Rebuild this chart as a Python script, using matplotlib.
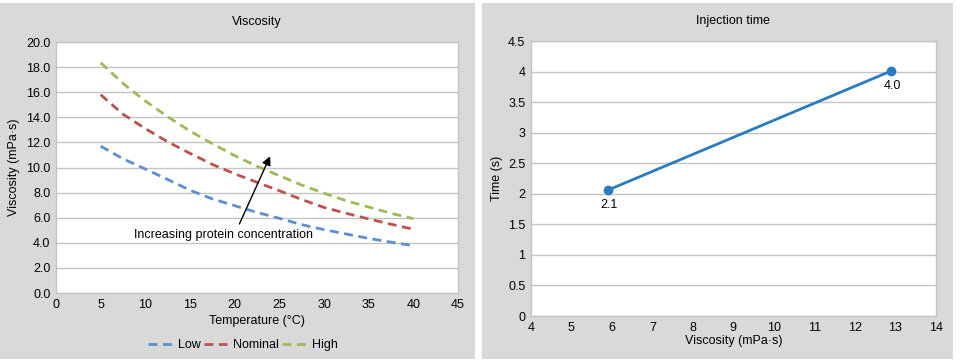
import numpy as np
import matplotlib.pyplot as plt
from matplotlib.patches import Rectangle

plt.rcParams['font.family'] = ['Liberation Sans', 'DejaVu Sans']

# viscosity vs temperature
temp = [5, 7.5, 10, 12.5, 15, 17.5, 20, 22.5, 25, 27.5, 30, 32.5, 35, 37.5, 40]
low = [11.7, 10.7, 9.88, 9.05, 8.19, 7.5, 6.96, 6.42, 5.95, 5.45, 5.05, 4.7, 4.35, 4.05, 3.77]
nominal = [15.8, 14.25, 13.1, 12.05, 11.13, 10.25, 9.5, 8.82, 8.15, 7.45, 6.82, 6.35, 5.9, 5.48, 5.08]
high = [18.35, 16.7, 15.3, 14.05, 12.9, 11.9, 10.95, 10.1, 9.35, 8.6, 7.95, 7.35, 6.85, 6.35, 5.93]
series_names = ['Low', 'Nominal', 'High']
series_colors = ['#5b8fd0', '#c0504d', '#9bbb59']

# injection time vs viscosity
visc = [5.9, 12.9]
inj_time = [2.06, 4.01]
inj_labels = ['2.1', '4.0']

grid_c = '#c4c4c4'
panel_c = '#d9d9d9'
fs = 9

fig = plt.figure(figsize=(9.6, 3.6), dpi=100)
fig.patches.append(Rectangle((0, 0.003), 475/960, 0.99, transform=fig.transFigure,
                             facecolor=panel_c, edgecolor='none', zorder=-5))
fig.patches.append(Rectangle((482/960, 0.003), 471/960, 0.99, transform=fig.transFigure,
                             facecolor=panel_c, edgecolor='none', zorder=-5))

def style(ax):
    ax.set_facecolor('white')
    for s in ax.spines.values():
        s.set_color(grid_c)
        s.set_linewidth(1.0)
    ax.grid(axis='y', color=grid_c, linewidth=1.0)
    ax.set_axisbelow(True)
    ax.tick_params(length=0, labelsize=fs, pad=4)

# left panel
ax1 = fig.add_axes([0.0583, 0.1861, 0.4188, 0.6972])
style(ax1)
for ys, name, c in zip([low, nominal, high], series_names, series_colors):
    ax1.plot(temp, ys, color=c, linestyle=(0, (3.2, 2)), linewidth=2.0, label=name)
ax1.set_xlim(0, 45)
ax1.set_ylim(0, 20)
ax1.set_xticks(np.arange(0, 46, 5))
ax1.set_yticks(np.arange(0, 20.1, 2))
ax1.set_yticklabels([f'{v:.1f}' for v in np.arange(0, 20.1, 2)])
ax1.annotate('', xy=(24.1, 11.1), xytext=(20.4, 5.3),
             arrowprops=dict(arrowstyle='-|>', color='black', lw=1.0, mutation_scale=13))
ax1.text(18.7, 4.6, 'Increasing protein concentration', fontsize=fs,
         ha='center', va='center')
ax1.set_xlabel('Temperature (°C)', fontsize=fs, labelpad=3)
ax1.set_ylabel('Viscosity (mPa·s)', fontsize=fs, labelpad=4)
ax1.set_title('Viscosity', fontsize=fs, pad=12)
ax1.legend(loc='center', bbox_to_anchor=(243/960, 1 - 345/360),
           bbox_transform=fig.transFigure, ncol=3, frameon=False, fontsize=fs,
           handlelength=1.9, handletextpad=0.5, columnspacing=0.2)

# right panel
ax2 = fig.add_axes([0.5531, 0.1222, 0.4216, 0.7639])
style(ax2)
ax2.plot(visc, inj_time, color='#2a7bc0', linewidth=2.0, marker='o', markersize=6)
for x, y, t in zip(visc, inj_time, inj_labels):
    ax2.annotate(t, (x, y), xytext=(0.5, -10.5), textcoords='offset points',
                 ha='center', va='center', fontsize=fs)
ax2.set_xlim(4, 14)
ax2.set_ylim(0, 4.5)
ax2.set_xticks(np.arange(4, 15, 1))
ax2.set_yticks(np.arange(0, 4.51, 0.5))
ax2.set_yticklabels(['0', '0.5', '1', '1.5', '2', '2.5', '3', '3.5', '4', '4.5'])
ax2.set_xlabel('Viscosity (mPa·s)', fontsize=fs, labelpad=1)
ax2.set_ylabel('Time (s)', fontsize=fs, labelpad=4)
ax2.set_title('Injection time', fontsize=fs, pad=12)

fig.savefig('out.png', dpi=100)
